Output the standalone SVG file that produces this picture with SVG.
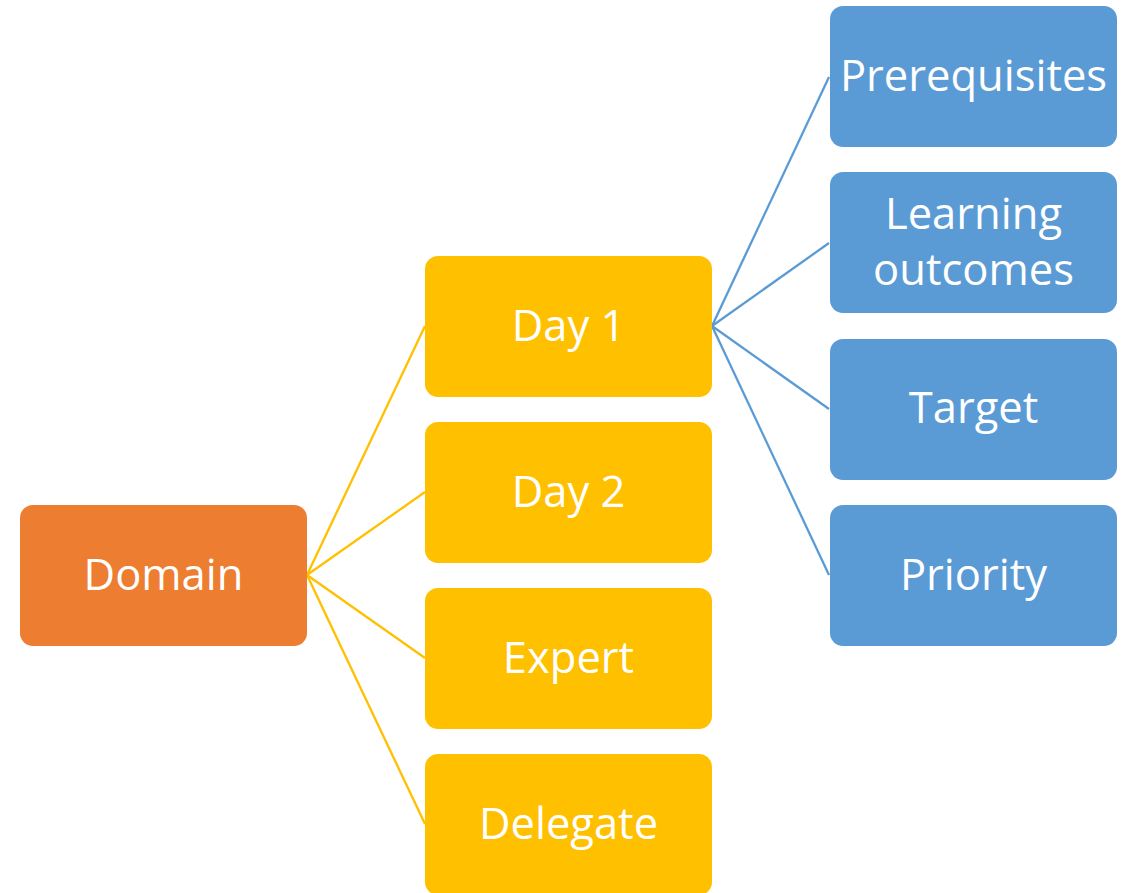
<svg xmlns="http://www.w3.org/2000/svg" width="1127" height="893" viewBox="0 0 1127 893">
<style>
.t{font-family:"Open Sans","Liberation Sans",sans-serif;font-size:43.5px;fill:#fff;text-anchor:middle}
.o{fill:#ED7D31}.y{fill:#FFC000}.b{fill:#5B9BD5}
.cy{stroke:#FFC000;stroke-width:2.3;fill:none}.cb{stroke:#5B9BD5;stroke-width:2.3;fill:none}
</style>
<rect width="1127" height="893" fill="#fff"/>
<g id="connectors">
<line class="cy" x1="307" y1="575" x2="425" y2="326"/>
<line class="cy" x1="307" y1="575" x2="425" y2="492"/>
<line class="cy" x1="307" y1="575" x2="425" y2="658"/>
<line class="cy" x1="307" y1="575" x2="425" y2="824"/>
<line class="cb" x1="712" y1="326" x2="829" y2="77"/>
<line class="cb" x1="712" y1="326" x2="829" y2="243"/>
<line class="cb" x1="712" y1="326" x2="829" y2="409"/>
<line class="cb" x1="712" y1="326" x2="829" y2="575"/>
</g>
<g id="domain"><rect class="o" x="20" y="505" width="287" height="141" rx="13"/><text class="t" x="163.5" y="590">Domain</text></g>
<g id="day1"><rect class="y" x="425" y="256" width="287" height="141" rx="13"/><text class="t" x="568.5" y="341">Day 1</text></g>
<g id="day2"><rect class="y" x="425" y="422" width="287" height="141" rx="13"/><text class="t" x="568.5" y="507">Day 2</text></g>
<g id="expert"><rect class="y" x="425" y="588" width="287" height="141" rx="13"/><text class="t" x="568.5" y="673">Expert</text></g>
<g id="delegate"><rect class="y" x="425" y="754" width="287" height="141" rx="13"/><text class="t" x="568.5" y="839">Delegate</text></g>
<g id="prereq"><rect class="b" x="830" y="6" width="287" height="141" rx="13"/><text class="t" x="973.5" y="91">Prerequisites</text></g>
<g id="learning"><rect class="b" x="830" y="172" width="287" height="141" rx="13"/><text class="t" x="973.5" y="229">Learning</text><text class="t" x="973.5" y="285">outcomes</text></g>
<g id="target"><rect class="b" x="830" y="339" width="287" height="141" rx="13"/><text class="t" x="973.5" y="423">Target</text></g>
<g id="priority"><rect class="b" x="830" y="505" width="287" height="141" rx="13"/><text class="t" x="973.5" y="590">Priority</text></g>
</svg>
